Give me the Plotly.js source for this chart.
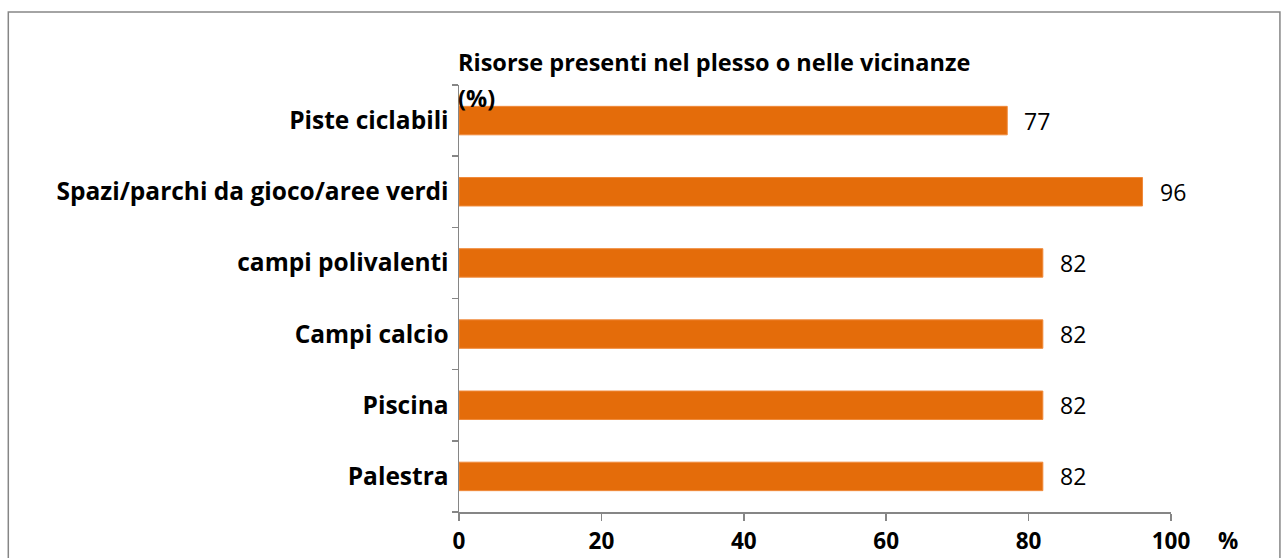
<!DOCTYPE html>
<html><head><meta charset="utf-8">
<script src="https://cdn.plot.ly/plotly-3.0.1.min.js"></script>
<style>html,body{margin:0;padding:0;background:#fff}#chart{width:1282px;height:558px}</style>
</head><body><div id="chart"></div>
<script>
const categories = ["Palestra", "Piscina", "Campi calcio", "campi polivalenti", "Spazi/parchi da gioco/aree verdi", "Piste ciclabili"];
const values = [82, 82, 82, 82, 96, 77];
const tickValues = [0, 20, 40, 60, 80, 100];
const titleLine1 = "Risorse presenti nel plesso o nelle vicinanze";
const titleLine2 = "(%)";
const axisUnit = "%";

const FONT = "Open Sans, Noto Sans, sans-serif";
const trace = {
  type: "bar", orientation: "h",
  x: values, y: categories,
  marker: {color: "#E46C0A", line: {color: "#F08A3A", width: 1}},
  cliponaxis: false, hoverinfo: "none"
};
const valueLabels = values.map((v, i) => ({
  text: String(v), x: v, y: categories[i], xref: "x", yref: "y",
  xanchor: "left", yanchor: "middle", xshift: 15, showarrow: false,
  font: {family: FONT, size: 23, color: "#000"}
}));
const layout = {
  width: 1282, height: 558,
  margin: {l: 459, r: 111, t: 85, b: 46},
  paper_bgcolor: "#fff", plot_bgcolor: "#fff",
  showlegend: false, bargap: 0.6,
  font: {family: FONT, color: "#000"},
  xaxis: {
    range: [0, 100], tickvals: tickValues, ticktext: tickValues.map(String),
    showgrid: false, zeroline: false, showline: true, linecolor: "#868686", linewidth: 1.5,
    ticks: "outside", ticklen: 7, tickcolor: "#868686", tickwidth: 1.5,
    tickfont: {family: FONT, size: 22.5, color: "#000", weight: "bold"},
    ticklabelstandoff: 1,
    fixedrange: true
  },
  yaxis: {
    type: "category", categoryorder: "array", categoryarray: categories,
    showgrid: false, zeroline: false, showline: true, linecolor: "#868686", linewidth: 1.5,
    ticks: "outside", tickson: "boundaries", ticklen: 6, tickcolor: "#868686", tickwidth: 1.5,
    tickfont: {family: FONT, size: 24.5, color: "#000", weight: "bold"},
    ticklabelstandoff: 4,
    fixedrange: true
  },
  annotations: [
    {text: titleLine1, xref: "paper", yref: "paper", x: 0, y: 1.054, xanchor: "left", yanchor: "middle",
     xshift: -3, showarrow: false,
     font: {family: FONT, size: 23.5, color: "#000", weight: "bold"}},
    {text: titleLine2, xref: "paper", yref: "paper", x: 0, y: 0.9696, xanchor: "left", yanchor: "middle",
     xshift: -3, showarrow: false,
     font: {family: FONT, size: 23.5, color: "#000", weight: "bold"}},
    {text: axisUnit, xref: "paper", yref: "paper", x: 1.08, y: -0.066, xanchor: "center", yanchor: "middle",
     showarrow: false,
     font: {family: FONT, size: 22.5, color: "#000", weight: "bold"}}
  ].concat(valueLabels),
  shapes: [
    {type: "rect", xref: "paper", yref: "paper", x0: -0.633, x1: 1.153, y0: -0.2, y1: 1.171,
     line: {color: "#868686", width: 1.5}, fillcolor: "rgba(0,0,0,0)", layer: "below"}
  ]
};
Plotly.newPlot("chart", [trace], layout, {displayModeBar: false, staticPlot: true});
</script></body></html>
